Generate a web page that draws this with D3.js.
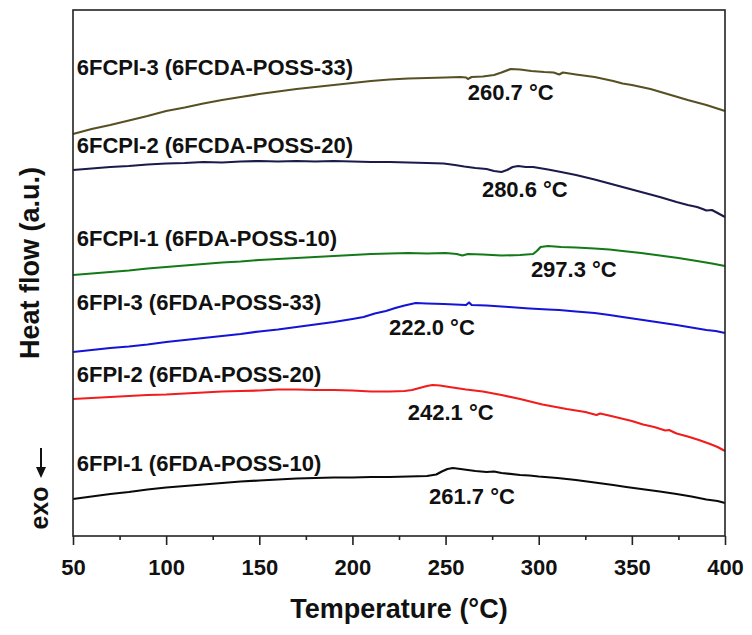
<!DOCTYPE html>
<html>
<head>
<meta charset="utf-8">
<script src="https://cdn.jsdelivr.net/npm/d3@7/dist/d3.min.js"></script>
<style>
  html, body { margin: 0; padding: 0; background: #fff; }
  svg { display: block; }
  text { font-family: "Liberation Sans", Arial, Helvetica, sans-serif; font-weight: bold; fill: #111; }
</style>
</head>
<body>
<svg id="chart" width="752" height="635"></svg>
<script>
// ---------- DATA (heat flow, arbitrary units) ----------
const xTicks = [50, 100, 150, 200, 250, 300, 350, 400];
const xMinorTicks = [75, 125, 175, 225, 275, 325, 375];

const seriesNames = [
  "6FCPI-3 (6FCDA-POSS-33)",
  "6FCPI-2 (6FCDA-POSS-20)",
  "6FCPI-1 (6FDA-POSS-10)",
  "6FPI-3 (6FDA-POSS-33)",
  "6FPI-2 (6FDA-POSS-20)",
  "6FPI-1 (6FDA-POSS-10)"
];
const peakLabels = ["260.7 °C", "280.6 °C", "297.3 °C", "222.0 °C", "242.1 °C", "261.7 °C"];

const temps6FCPI3 = [50,55,60,70,80,90,100,110,120,130,140,150,160,170,180,190,200,210,220,230,240,250,258,261,262,264,270,276,280,285,290,296,303,308,311,313,320,330,340,345,350,360,370,380,390,400];
const flow6FCPI3  = [402,404.5,407,411,415.5,420,425,428.5,432.5,436,439,442,444.5,447,449,451,453,455,456.5,457.5,458,458.5,459,458.5,457,459,459.5,461,463.5,467,466.5,465,464,463.5,461.5,463.5,461.5,459,455,452.5,451,447,441.5,436,431,425];

const temps6FCPI2 = [50,60,70,80,90,100,110,120,130,140,150,160,170,180,190,200,210,220,230,240,249,255,260,266,272,276,280,283,286,289,293,297,305,312,320,330,340,347,355,365,374,380,385,388,390,393,397,400];
const flow6FCPI2  = [366,367.5,369,370,371.5,372.5,373,374,373.5,374.5,375,374.5,375,374.5,375,374.5,374,374,373.5,373,372.5,371,369.5,368,367,365,364,366,369,370,369,369,366.5,364,361,356.5,351.5,348,344,339,334,331,329,327,325.5,326,322,319];

const temps6FCPI1 = [50,60,70,80,90,100,110,120,130,140,150,160,170,180,190,200,210,220,230,240,250,256,259,262,270,280,290,297,299,301,305,312,320,330,338,345,355,365,375,385,393,400];
const flow6FCPI1  = [261,262.5,264,265.5,267.5,269,270.5,272,273.5,274.5,276,277,278,279,280,281,282,282.5,283,282.5,283,282,280.5,282,281.5,280.5,281,282,285,289,290,289,288.5,287.5,286.5,285,283,280.5,278,275,272.5,270];

const temps6FPI3 = [50,60,70,80,90,100,110,120,130,140,150,160,170,180,190,200,206,212,218,223,228,234,240,249,255,261,262.6,264,272,284,295,305,311,320,330,338,345,356,365,374,382,390,395,400];
const flow6FPI3  = [184,186,188,189.5,191.5,194,196,198,200,202,204.5,206.5,209,211.5,214,217,219,222.5,225,228,230.5,233,232.5,232,231.5,231,233.5,231,230.5,229,227.5,226.5,226,224.5,223,221,219,216,213.5,211,208.5,206,205,203];

const temps6FPI2 = [50,60,70,80,90,100,110,120,130,140,150,160,170,180,190,200,210,220,228,232,236,240,243,247,252,261,270,280,290,302,315,325,331,333,340,350,356,362,368,370,374,380,386,392,396,400];
const flow6FPI2  = [137,138,139,140,141,141.5,142.5,143.5,144.5,145,145.5,146.5,146.5,146,146,145.5,144.5,144.5,145,146,148,150,151,150.5,149,146.5,144.5,141,137,131.5,127,124,121,122.5,119.5,115,111.5,109,105.5,106,102.5,99.5,96,92,89,85];

const temps6FPI1 = [50,60,70,80,90,100,110,120,130,140,150,160,170,180,190,200,210,220,230,240,245,248,251,254,258,262,266,272,276,280,290,295,300,310,320,330,340,347,355,365,374,382,390,396,400];
const flow6FPI1  = [37,39.5,42,44,46.5,48.5,50,51.5,53,54.5,55.5,56.5,57.5,58,58.5,58.5,59,59,59.5,60,61.5,64.5,67,68,67,66,65,64,64.5,63,61,60.5,59.5,58,56,53.5,51,49,47,44.5,42,39.5,36.5,35,33];

// ---------- LAYOUT / STYLE ----------
const colors = ["#575024", "#1b1a4a", "#137a17", "#1414d8", "#f21c1c", "#0a0a0a"];
// label anchors in data coordinates: [temperature, flow]
const nameAnchors = [[52, 461], [52, 383], [52, 290], [52, 226], [52, 154.3], [52, 65.3]];
const peakAnchors = [[261.9, 436], [269.5, 339.3], [295.8, 259.3], [219.6, 201], [229.7, 116], [241.1, 32]];

const margin = { left: 73, right: 27, top: 10, bottom: 99 };
const W = 752, H = 635;
const x0 = margin.left, x1 = W - margin.right, y0 = margin.top, y1 = H - margin.bottom;

const x = d3.scaleLinear().domain([50, 400]).range([x0, x1]);
const y = d3.scaleLinear().domain([0, 526]).range([y1, y0]);

const svg = d3.select("#chart");

const seriesTemps = [temps6FCPI3, temps6FCPI2, temps6FCPI1, temps6FPI3, temps6FPI2, temps6FPI1];
const seriesFlows = [flow6FCPI3, flow6FCPI2, flow6FCPI1, flow6FPI3, flow6FPI2, flow6FPI1];

const line = d3.line().x(d => x(d[0])).y(d => y(d[1]));

const gLines = svg.append("g");
seriesTemps.forEach((ts, i) => {
  const pts = ts.map((t, j) => [t, seriesFlows[i][j]]);
  gLines.append("path")
    .attr("d", line(pts))
    .attr("fill", "none")
    .attr("stroke", colors[i])
    .attr("stroke-width", 2.2)
    .attr("stroke-linejoin", "round");
});

// frame
svg.append("rect")
  .attr("x", x0).attr("y", y0)
  .attr("width", x1 - x0).attr("height", y1 - y0)
  .attr("fill", "none").attr("stroke", "#222").attr("stroke-width", 1.6);

// x axis major
const axMajor = svg.append("g").attr("transform", `translate(0,${y1})`)
  .call(d3.axisBottom(x).tickValues(xTicks).tickSize(9).tickPadding(14).tickSizeOuter(0));
axMajor.select(".domain").remove();
axMajor.selectAll(".tick line").attr("stroke", "#222").attr("stroke-width", 1.6);
axMajor.selectAll(".tick text").attr("font-size", 22).attr("font-family", "Liberation Sans, Arial, sans-serif").attr("font-weight", "bold").attr("fill", "#111");

// x axis minor
const axMinor = svg.append("g").attr("transform", `translate(0,${y1})`)
  .call(d3.axisBottom(x).tickValues(xMinorTicks).tickSize(4).tickFormat(""));
axMinor.select(".domain").remove();
axMinor.selectAll(".tick line").attr("stroke", "#222").attr("stroke-width", 1.6);

// axis titles
svg.append("text")
  .attr("x", (x0 + x1) / 2).attr("y", 618)
  .attr("text-anchor", "middle").attr("font-size", 27)
  .text("Temperature (°C)");

svg.append("text")
  .attr("transform", "translate(39,263) rotate(-90)")
  .attr("text-anchor", "middle").attr("font-size", 27)
  .text("Heat flow (a.u.)");

svg.append("text")
  .attr("transform", "translate(48,508) rotate(-90)")
  .attr("text-anchor", "middle").attr("font-size", 25)
  .text("exo");

// exo arrow
svg.append("line").attr("x1", 41).attr("x2", 41).attr("y1", 448).attr("y2", 470)
  .attr("stroke", "#111").attr("stroke-width", 2);
svg.append("path").attr("d", "M36,467 L46,467 L41,478 Z").attr("fill", "#111");

// series labels
seriesNames.forEach((n, i) => {
  svg.append("text")
    .attr("x", x(nameAnchors[i][0])).attr("y", y(nameAnchors[i][1]))
    .attr("font-size", 22)
    .text(n);
  svg.append("text")
    .attr("x", x(peakAnchors[i][0])).attr("y", y(peakAnchors[i][1]))
    .attr("font-size", 22)
    .text(peakLabels[i]);
});
</script>
</body>
</html>
